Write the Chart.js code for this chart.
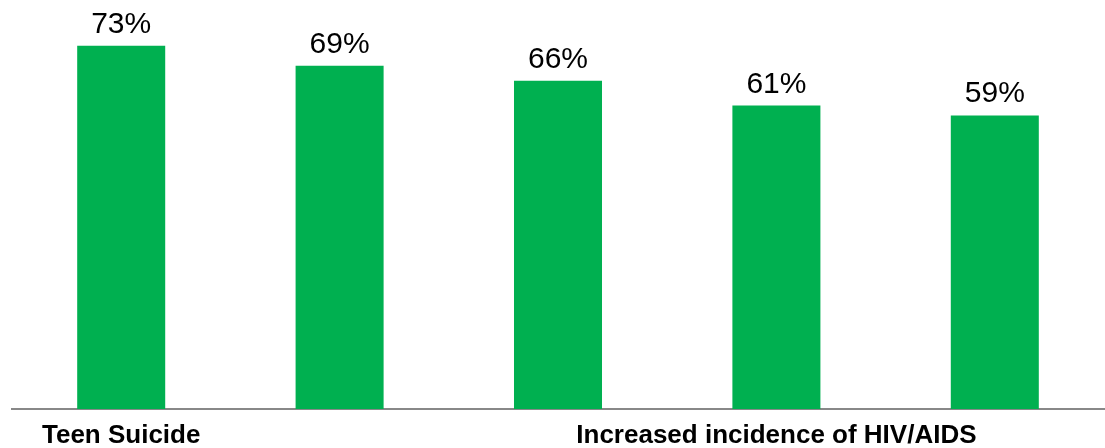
<!DOCTYPE html>
<html>
<head>
<meta charset="utf-8">
<script src="https://cdn.jsdelivr.net/npm/chart.js@4"></script>
<style>
    body { margin: 0; background: #fff; }
    #wrap { width: 1105px; height: 448px; }
</style>
</head>
<body>
<div id="wrap"><canvas id="barChart"></canvas></div>
<script>
// ========== 데이터 ==========
// only two category labels are legible in the picture; the rest stay blank
const categories = ['Teen Suicide', '', '', 'Increased incidence of HIV/AIDS', ''];
const values = [73, 69, 66, 61, 59];
const barColor = '#00B050';

// 막대 위 값 표시
const valueLabels = {
    id: 'valueLabels',
    afterDatasetsDraw(chart) {
        const ctx = chart.ctx;
        const meta = chart.getDatasetMeta(0);
        ctx.save();
        ctx.font = '30px "Liberation Sans", Arial, sans-serif';
        ctx.fillStyle = '#000';
        ctx.textAlign = 'center';
        ctx.textBaseline = 'alphabetic';
        meta.data.forEach((bar, i) => {
            ctx.fillText(values[i] + '%', bar.x, bar.y - 13);
        });
        ctx.restore();
    }
};

const ctx = document.getElementById('barChart').getContext('2d');
const chart = new Chart(ctx, {
    type: 'bar',
    data: {
        labels: categories,
        datasets: [{
            data: values,
            backgroundColor: barColor,
            borderWidth: 0,
            categoryPercentage: 1,
            barPercentage: 0.403
        }]
    },
    options: {
        responsive: true,
        maintainAspectRatio: false,
        animation: false,
        layout: { padding: { top: 11, left: 12, right: 1, bottom: 0 } },
        plugins: {
            legend: { display: false },
            tooltip: { enabled: false }
        },
        scales: {
            x: {
                grid: { display: false },
                border: { display: true, color: '#888', width: 2 },
                ticks: {
                    autoSkip: false,
                    maxRotation: 0,
                    padding: 3,
                    color: '#000',
                    font: { family: '"Liberation Sans", Arial, sans-serif', size: 26, weight: 'bold' }
                },
                afterFit(scale) {
                    scale.height = 39; // 축선 위치 고정
                }
            },
            y: {
                display: false,
                min: 0,
                max: 80
            }
        }
    },
    plugins: [valueLabels]
});
</script>
</body>
</html>
